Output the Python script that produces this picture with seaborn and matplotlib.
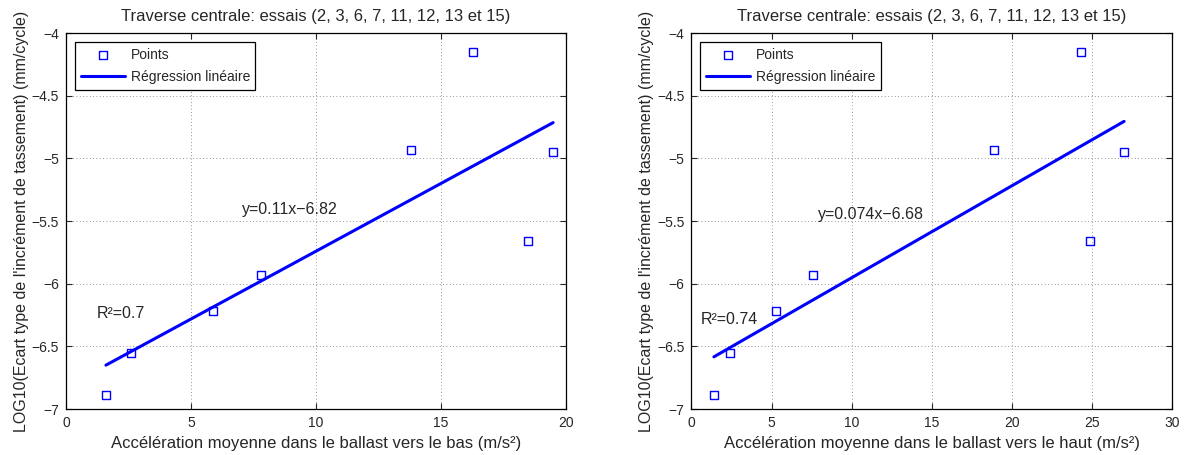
import matplotlib
matplotlib.use("Agg")
import matplotlib.pyplot as plt
import seaborn as sns
import numpy as np

# Données
y_log = [-6.89, -6.55, -6.22, -5.93, -4.93, -4.15, -5.66, -4.95]
acc_bas = [1.6, 2.6, 5.9, 7.8, 13.8, 16.3, 18.5, 19.5]
acc_haut = [1.4, 2.4, 5.3, 7.6, 18.9, 24.3, 24.9, 27.0]

titre = 'Traverse centrale: essais (2, 3, 6, 7, 11, 12, 13 et 15)'
ylabel = "LOG10(Ecart type de l'incrément de tassement) (mm/cycle)"
yticks = [-7, -6.5, -6, -5.5, -5, -4.5, -4]

sns.set_style("ticks")
plt.rcParams['font.family'] = ['Liberation Sans', 'DejaVu Sans']

fig = plt.figure(figsize=(11.84, 4.55), dpi=100)
ax1 = fig.add_axes([0.0557, 0.101, 0.422, 0.826])
ax2 = fig.add_axes([0.584, 0.101, 0.406, 0.826])


def plot_panel(ax, x, y, xlabel, xticks, eq_text, eq_pos, r2_text, r2_pos):
    """Trace les points et la régression linéaire sur un axe"""
    sns.scatterplot(
        x=x, y=y, marker='s', s=34, facecolor='none', edgecolor='blue',
        linewidth=1.0, label='Points', ax=ax, zorder=3
        )
    sns.regplot(
        x=x, y=y, scatter=False, ci=None, color='blue', ax=ax,
        line_kws={'lw': 2.2}
        )
    ax.lines[-1].set_label('Régression linéaire')

    ax.text(eq_pos[0], eq_pos[1], eq_text, fontsize=11.5)
    ax.text(r2_pos[0], r2_pos[1], r2_text, fontsize=11.5)

    ax.set_xlim(xticks[0], xticks[-1])
    ax.set_xticks(xticks)
    ax.set_ylim(-7, -4)
    ax.set_yticks(yticks)
    ax.set_yticklabels([f"{v:g}".replace('-', '\u2212') for v in yticks])
    ax.grid(True, linestyle=(0, (1, 3)), color='0.45', lw=0.6)
    ax.tick_params(direction='in', top=True, right=True, labelsize=10,
                   length=4, pad=5)
    for sp in ax.spines.values():
        sp.set_visible(True)
        sp.set_color('k')
        sp.set_linewidth(0.9)

    ax.set_title(titre, fontsize=12, pad=9)
    ax.set_xlabel(xlabel, fontsize=12, labelpad=4)
    ax.set_ylabel(ylabel, fontsize=11.5, labelpad=2)

    leg = ax.legend(loc='upper left', fontsize=10, fancybox=False,
                    edgecolor='k', framealpha=1, handlelength=3.2,
                    handletextpad=0.4, labelspacing=0.6, borderpad=0.4,
                    borderaxespad=0.65)
    leg.get_frame().set_linewidth(0.9)


plot_panel(ax1, acc_bas, y_log,
           'Accélération moyenne dans le ballast vers le bas (m/s²)',
           [0, 5, 10, 15, 20],
           'y=0.11x\u22126.82', (7.05, -5.44), 'R²=0.7', (1.25, -6.27))
plot_panel(ax2, acc_haut, y_log,
           'Accélération moyenne dans le ballast vers le haut (m/s²)',
           [0, 5, 10, 15, 20, 25, 30],
           'y=0.074x\u22126.68', (7.9, -5.48), 'R²=0.74', (0.6, -6.32))

plt.savefig('out.png', dpi=100)
